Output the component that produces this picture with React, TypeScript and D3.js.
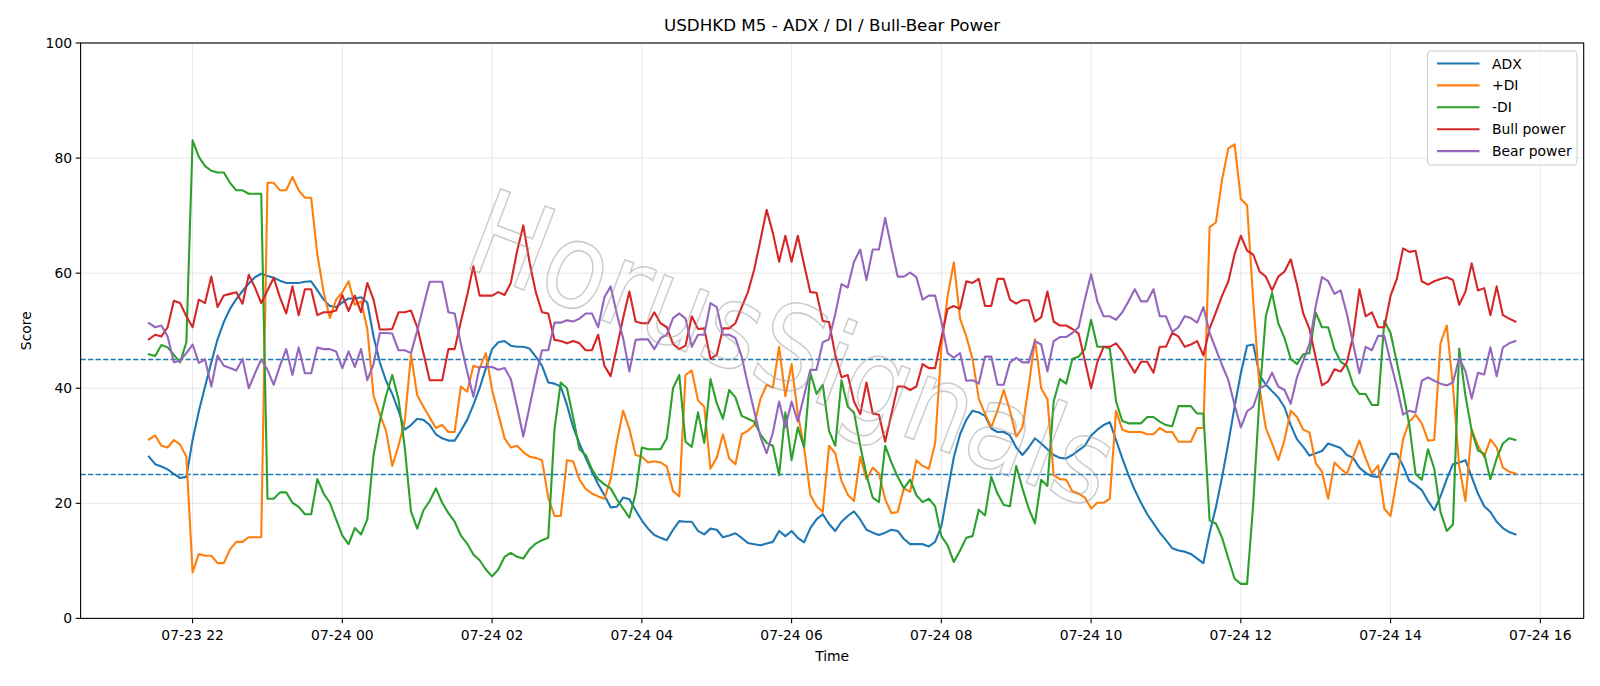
import React from 'react';
import * as d3 from 'd3';

// USDHKD M5 bars, first bar 07-23 21:25, one bar every 5 minutes
const START = '2024-07-23T21:25:00Z';
const STEP_MIN = 5;

const adx = [
  28.1, 26.8, 26.4, 25.9, 25.1, 24.4, 24.6, 31.0, 36.0, 40.3,
  44.5, 48.5, 51.5, 53.8, 55.5, 56.9, 58.2, 59.3, 59.9, 59.5,
  59.2, 58.7, 58.3, 58.3, 58.3, 58.5, 58.6, 57.0, 55.4, 54.3,
  54.1, 54.9, 55.6, 55.6, 55.8, 54.9, 49.0, 44.5, 41.3, 39.0,
  36.1, 32.8, 33.6, 34.7, 34.5, 33.6, 32.0, 31.3, 30.9, 30.9,
  32.6, 34.5, 37.1, 40.0, 43.5, 46.8, 48.0, 48.2, 47.4, 47.2,
  47.2, 46.9, 45.5, 43.9, 41.0, 40.8, 40.3, 37.1, 33.2, 30.4,
  27.9, 25.5, 23.3, 21.4, 19.3, 19.4, 21.0, 20.7, 18.8, 17.0,
  15.6, 14.5, 14.0, 13.6, 15.4, 16.9, 16.8, 16.8, 15.2, 14.6,
  15.6, 15.4, 14.1, 14.4, 14.8, 14.0, 13.1, 12.9, 12.7, 13.0,
  13.3, 15.2, 14.3, 15.2, 14.0, 13.2, 15.7, 17.2, 18.1, 16.4,
  15.2, 16.8, 17.8, 18.6, 17.2, 15.4, 14.9, 14.5, 14.9, 15.4,
  15.2, 13.8, 12.9, 12.9, 12.9, 12.5, 13.3, 16.0, 22.0, 28.0,
  32.0, 34.5, 36.1, 35.8, 35.2, 33.0, 32.4, 32.4, 31.8, 29.7,
  28.4, 29.7, 31.3, 30.4, 29.4, 28.4, 27.9, 27.8, 28.4, 29.2,
  30.0, 31.8, 32.8, 33.6, 34.1, 31.0, 27.8, 24.9, 22.3, 20.1,
  18.1, 16.5, 14.9, 13.6, 12.2, 11.8, 11.6, 11.2, 10.4, 9.6,
  14.9, 19.3, 24.6, 30.5, 36.8, 42.6, 47.4, 47.6, 42.3, 40.6,
  39.5, 38.4, 36.7, 33.6, 31.1, 29.8, 28.3, 28.7, 29.1, 30.4,
  30.0, 29.6, 28.4, 27.9, 26.2, 25.3, 24.7, 24.6, 26.6, 28.6,
  28.6, 26.5, 23.9, 23.2, 22.3, 20.4, 18.8, 21.2, 24.2, 26.8,
  27.1, 27.5, 24.6, 21.7, 19.5, 18.5, 16.8, 15.7, 15.0, 14.6,
];

const plusDI = [
  31.1, 31.8, 30.0, 29.7, 31.0, 30.2, 28.1, 8.0, 11.2, 10.9,
  10.9, 9.6, 9.6, 12.0, 13.3, 13.3, 14.1, 14.1, 14.1, 75.7,
  75.7, 74.4, 74.4, 76.7, 74.4, 73.1, 73.1, 63.2, 56.7, 52.2,
  55.4, 56.7, 58.6, 54.5, 55.1, 50.3, 38.7, 35.5, 32.6, 26.5,
  30.0, 34.2, 45.8, 38.8, 36.8, 34.9, 33.1, 33.6, 32.4, 32.4,
  40.3, 39.4, 43.9, 43.5, 46.1, 39.7, 35.5, 31.3, 29.7, 30.0,
  28.9, 28.1, 27.9, 27.5, 21.0, 17.8, 17.8, 27.5, 27.3, 24.1,
  22.5, 21.7, 21.2, 20.8, 24.2, 30.7, 36.1, 32.9, 28.4, 28.1,
  27.1, 27.3, 27.1, 26.4, 22.1, 21.2, 42.3, 43.1, 37.9, 36.8,
  26.0, 27.9, 32.0, 27.8, 26.8, 32.0, 32.6, 33.6, 38.1, 40.6,
  40.1, 47.2, 38.6, 44.2, 35.5, 29.7, 21.5, 19.5, 18.5, 30.0,
  28.7, 23.9, 21.5, 20.4, 28.1, 24.2, 26.2, 25.2, 20.7, 18.3,
  18.5, 22.6, 22.0, 27.5, 26.5, 26.0, 30.4, 47.0, 56.0, 61.9,
  52.1, 49.0, 45.1, 38.2, 35.6, 33.2, 36.1, 39.7, 36.1, 31.6,
  33.2, 40.3, 48.5, 40.0, 38.1, 24.9, 24.2, 24.1, 22.1, 21.7,
  21.0, 19.1, 20.1, 20.1, 20.8, 36.1, 32.8, 32.4, 32.4, 32.4,
  32.0, 32.0, 33.1, 32.4, 32.4, 30.7, 30.7, 30.7, 33.1, 33.1,
  68.0, 68.8, 76.3, 81.7, 82.4, 72.9, 71.8, 55.0, 40.0, 33.1,
  30.4, 27.5, 31.0, 36.1, 35.0, 32.8, 32.3, 27.0, 25.5, 20.8,
  27.1, 26.0, 25.1, 28.1, 30.9, 27.8, 25.2, 26.6, 19.1, 17.8,
  24.2, 31.1, 34.2, 35.4, 33.9, 30.9, 31.0, 47.8, 50.9, 40.3,
  26.4, 20.4, 32.8, 30.0, 28.1, 31.1, 29.7, 26.2, 25.5, 25.2,
];

const minusDI = [
  45.9, 45.6, 47.5, 47.1, 45.8, 44.5, 48.0, 83.1, 80.2, 78.6,
  77.8, 77.5, 77.5, 75.7, 74.4, 74.4, 73.8, 73.8, 73.8, 20.8,
  20.8, 21.9, 21.9, 20.1, 19.4, 18.1, 18.1, 24.2, 21.7, 20.1,
  17.2, 14.4, 12.9, 15.7, 14.6, 17.2, 28.4, 34.2, 38.7, 42.3,
  38.1, 29.7, 18.6, 15.6, 18.8, 20.4, 22.6, 20.1, 18.3, 16.8,
  14.4, 13.0, 11.1, 10.1, 8.5, 7.3, 8.5, 10.7, 11.4, 10.7,
  10.4, 12.0, 13.0, 13.6, 14.0, 32.9, 41.0, 40.0, 34.9, 29.4,
  28.4, 25.9, 24.2, 23.3, 22.6, 20.7, 19.1, 17.5, 21.7, 29.7,
  29.4, 29.4, 29.4, 31.3, 40.0, 42.3, 30.7, 29.8, 35.8, 30.5,
  41.6, 37.4, 34.7, 39.7, 38.4, 35.2, 34.7, 34.2, 32.0, 30.5,
  30.0, 24.9, 35.8, 27.5, 33.2, 29.7, 42.7, 39.0, 40.6, 32.6,
  30.0, 41.4, 36.8, 35.8, 30.0, 24.9, 21.0, 20.2, 30.0, 27.1,
  24.6, 22.6, 24.1, 21.4, 20.2, 20.8, 19.5, 14.3, 12.7, 9.8,
  11.8, 14.0, 14.3, 18.9, 17.9, 24.6, 21.7, 19.7, 19.5, 26.5,
  22.6, 19.1, 16.5, 24.1, 23.0, 37.7, 41.6, 40.8, 45.1, 45.5,
  46.8, 51.9, 47.2, 47.2, 46.9, 37.7, 34.3, 33.9, 33.9, 33.9,
  35.0, 35.0, 34.2, 33.6, 33.4, 36.9, 36.9, 36.9, 35.6, 35.6,
  17.0, 16.5, 14.0, 10.4, 6.9, 6.0, 6.0, 20.1, 38.7, 52.5,
  56.6, 51.3, 48.7, 45.1, 44.2, 45.9, 46.1, 53.2, 50.6, 50.6,
  46.8, 44.6, 43.9, 40.6, 39.0, 39.0, 37.1, 37.1, 51.7, 49.6,
  44.5, 39.4, 33.6, 25.1, 24.1, 29.4, 26.0, 18.5, 15.2, 16.3,
  46.9, 38.7, 32.6, 29.2, 28.6, 24.2, 27.8, 30.4, 31.3, 31.0,
];

const bullPower = [
  48.5, 49.3, 49.0, 50.6, 55.2, 54.8, 52.5, 50.6, 55.4, 54.8,
  59.4, 54.1, 56.1, 56.4, 56.7, 54.7, 59.7, 57.5, 54.8, 57.0,
  59.2, 55.8, 53.0, 57.7, 52.7, 57.2, 57.2, 52.7, 53.2, 53.2,
  53.5, 56.2, 53.4, 56.1, 53.2, 58.3, 55.4, 50.2, 50.2, 50.3,
  53.2, 53.2, 53.5, 50.6, 46.1, 41.4, 41.4, 41.4, 46.8, 46.8,
  51.6, 56.1, 61.2, 56.1, 56.1, 56.1, 56.7, 56.2, 58.3, 63.8,
  68.3, 61.9, 56.7, 53.2, 53.0, 48.4, 48.2, 47.8, 48.2, 47.8,
  46.6, 46.6, 49.3, 43.9, 42.1, 47.1, 52.2, 56.8, 51.6, 51.3,
  51.3, 53.2, 51.3, 50.6, 47.7, 46.8, 47.4, 52.5, 50.3, 50.4,
  45.1, 45.8, 50.4, 50.4, 51.3, 54.1, 56.7, 60.6, 65.7, 71.0,
  67.0, 62.0, 66.5, 62.0, 66.5, 61.5, 56.7, 56.6, 51.7, 51.5,
  45.8, 41.9, 42.3, 37.7, 35.5, 41.0, 35.6, 35.4, 30.7, 35.5,
  40.3, 40.3, 39.7, 40.3, 44.2, 43.5, 43.5, 48.7, 53.8, 54.3,
  53.8, 58.6, 58.3, 59.0, 54.3, 54.3, 59.0, 59.0, 55.4, 54.7,
  55.3, 55.3, 51.6, 52.3, 56.8, 51.6, 50.9, 50.9, 50.3, 49.5,
  44.8, 40.0, 44.5, 47.2, 47.2, 47.8, 46.4, 44.5, 42.7, 44.6,
  44.6, 42.7, 47.2, 47.2, 49.6, 49.0, 47.2, 47.6, 48.2, 45.7,
  50.4, 53.2, 56.1, 58.6, 63.3, 66.5, 63.9, 63.2, 60.3, 59.4,
  57.0, 59.4, 60.3, 62.4, 58.0, 53.0, 50.3, 45.3, 40.5, 41.2,
  43.3, 42.9, 44.5, 49.1, 57.2, 52.5, 53.2, 50.6, 50.6, 56.1,
  59.0, 64.3, 63.7, 63.9, 58.6, 58.0, 58.6, 59.0, 59.3, 58.8,
  54.5, 56.8, 61.7, 57.0, 57.4, 52.7, 57.7, 52.7, 52.1, 51.6,
];

const bearPower = [
  51.3, 50.6, 50.9, 49.0, 44.5, 44.8, 46.1, 47.6, 44.4, 45.0,
  40.3, 45.7, 43.9, 43.5, 43.1, 45.1, 40.0, 42.6, 45.0, 43.2,
  40.6, 43.9, 46.8, 42.3, 47.1, 42.6, 42.6, 47.1, 46.8, 46.8,
  46.4, 43.5, 46.4, 43.7, 46.8, 41.4, 44.2, 49.6, 49.6, 49.5,
  46.6, 46.6, 46.1, 50.0, 54.3, 58.5, 58.5, 58.5, 53.2, 53.0,
  47.7, 42.9, 38.5, 43.7, 43.7, 43.7, 43.2, 43.5, 41.6, 36.8,
  31.6, 36.8, 41.9, 46.6, 46.6, 51.4, 51.4, 51.8, 51.6, 52.1,
  53.0, 53.0, 50.6, 55.8, 57.7, 52.9, 48.7, 42.9, 48.4, 48.5,
  48.5, 46.8, 48.7, 49.3, 52.2, 53.0, 52.1, 47.2, 49.3, 49.3,
  54.8, 54.1, 49.3, 49.3, 48.7, 45.5, 40.6, 36.1, 31.6, 28.7,
  32.3, 37.7, 33.2, 37.7, 34.2, 38.7, 43.2, 43.2, 48.0, 48.5,
  52.9, 58.1, 57.5, 62.0, 64.1, 58.8, 64.1, 64.1, 69.6, 64.4,
  59.4, 59.4, 60.1, 59.3, 55.4, 56.1, 56.1, 51.6, 46.1, 45.3,
  46.1, 41.3, 41.4, 40.8, 45.5, 45.5, 40.6, 40.6, 44.5, 45.3,
  44.5, 44.5, 48.2, 47.6, 42.9, 48.2, 48.9, 48.9, 49.6, 50.6,
  55.4, 59.8, 55.1, 52.5, 52.5, 51.9, 53.2, 55.1, 57.2, 55.1,
  55.1, 57.2, 52.5, 52.5, 49.8, 50.6, 52.5, 52.2, 51.4, 54.1,
  49.6, 46.8, 44.0, 41.4, 37.1, 33.2, 36.0, 36.8, 40.0, 40.5,
  42.7, 40.3, 39.7, 37.3, 41.9, 44.8, 47.7, 54.3, 59.3, 58.6,
  56.4, 57.0, 52.9, 47.7, 42.6, 47.2, 46.6, 49.1, 49.1, 44.5,
  40.3, 35.4, 36.1, 35.8, 41.3, 41.9, 41.3, 40.8, 40.5, 41.0,
  45.3, 42.9, 38.2, 42.7, 42.4, 47.1, 42.1, 47.1, 47.8, 48.2,
];

const seriesNames = ['ADX', '+DI', '-DI', 'Bull power', 'Bear power'];
const seriesColors = ['#1f77b4', '#ff7f0e', '#2ca02c', '#d62728', '#9467bd'];
const seriesValues = [adx, plusDI, minusDI, bullPower, bearPower];

const yTicks = [0, 20, 40, 60, 80, 100];
const thresholds = [45, 25];

const TITLE = 'USDHKD M5 - ADX / DI / Bull-Bear Power';
const WATERMARK = 'HorusSignals';

const W = 1600;
const H = 686;
const M = { left: 80.6, right: 1583.7, top: 43, bottom: 618.4 };
const FONT = '"DejaVu Sans", Verdana, sans-serif';

export default function App() {
  const t0 = Date.parse(START);
  const times = adx.map((_, i) => new Date(t0 + i * STEP_MIN * 60000));
  const first = +times[0];
  const last = +times[times.length - 1];
  const pad = (last - first) * 0.05;

  const x = d3
    .scaleUtc()
    .domain([new Date(first - pad), new Date(last + pad)])
    .range([M.left, M.right]);
  const y = d3.scaleLinear().domain([0, 100]).range([M.bottom, M.top]);

  const xTicks = d3.utcHour.every(2)!.range(x.domain()[0], x.domain()[1]);
  const fmt = d3.utcFormat('%m-%d %H');

  const line = d3
    .line<number>()
    .x((_, i) => x(times[i]))
    .y((v) => y(v));

  const legendX = 1427.5;
  const legendY = 51;
  const rowH = 21.9;

  // watermark placement
  const wmX = 792;
  const wmY = 350;

  return (
    <svg
      width={W}
      height={H}
      viewBox={`0 0 ${W} ${H}`}
      style={{ position: 'absolute', left: 0, top: 0, background: '#fff' }}
      fontFamily={FONT}
    >
      <rect x={0} y={0} width={W} height={H} fill="#fff" />

      {/* grid */}
      <g stroke="#b0b0b0" strokeOpacity={0.35} strokeWidth={0.9}>
        {xTicks.map((t) => (
          <line key={+t} x1={x(t)} x2={x(t)} y1={M.top} y2={M.bottom} />
        ))}
        {yTicks.map((v) => (
          <line key={v} x1={M.left} x2={M.right} y1={y(v)} y2={y(v)} />
        ))}
      </g>

      {/* threshold levels */}
      {thresholds.map((v) => (
        <line
          key={v}
          x1={M.left}
          x2={M.right}
          y1={y(v)}
          y2={y(v)}
          stroke="#1f77b4"
          strokeWidth={1.4}
          strokeDasharray="5.2,2.3"
        />
      ))}

      {/* series */}
      <g fill="none" strokeWidth={2.1} strokeLinejoin="round" strokeLinecap="square">
        {seriesValues.map((vals, k) => (
          <path key={seriesNames[k]} d={line(vals) ?? ''} stroke={seriesColors[k]} />
        ))}
      </g>

      {/* watermark */}
      <text
        x={wmX}
        y={wmY + 40}
        transform={`rotate(21 ${wmX} ${wmY})`}
        textAnchor="middle"
        fontSize={118}
        fontFamily={FONT}
        fill="none"
        stroke="#9a9a9a"
        strokeWidth={1.6}
        strokeOpacity={0.5}
        textLength={680}
        lengthAdjust="spacingAndGlyphs"
      >
        {WATERMARK}
      </text>

      {/* frame */}
      <rect
        x={M.left}
        y={M.top}
        width={M.right - M.left}
        height={M.bottom - M.top}
        fill="none"
        stroke="#000"
        strokeWidth={1.1}
      />

      {/* x axis */}
      <g fontSize={13.9} fill="#000" textAnchor="middle">
        {xTicks.map((t) => (
          <g key={+t}>
            <line x1={x(t)} x2={x(t)} y1={M.bottom} y2={M.bottom + 4.9} stroke="#000" strokeWidth={1.1} />
            <text x={x(t)} y={M.bottom + 22}>
              {fmt(t)}
            </text>
          </g>
        ))}
      </g>

      {/* y axis */}
      <g fontSize={13.9} fill="#000" textAnchor="end">
        {yTicks.map((v) => (
          <g key={v}>
            <line x1={M.left - 4.9} x2={M.left} y1={y(v)} y2={y(v)} stroke="#000" strokeWidth={1.1} />
            <text x={M.left - 8.5} y={y(v) + 5}>
              {v}
            </text>
          </g>
        ))}
      </g>

      <text x={(M.left + M.right) / 2} y={661} fontSize={13.9} textAnchor="middle">
        Time
      </text>
      <text
        x={0}
        y={0}
        transform={`translate(30.5 ${(M.top + M.bottom) / 2}) rotate(-90)`}
        fontSize={13.9}
        textAnchor="middle"
      >
        Score
      </text>
      <text x={(M.left + M.right) / 2} y={30.5} fontSize={16.7} textAnchor="middle">
        {TITLE}
      </text>

      {/* legend */}
      <g>
        <rect
          x={legendX}
          y={legendY}
          width={149.5}
          height={114}
          rx={3}
          fill="#fff"
          fillOpacity={0.8}
          stroke="#ccc"
          strokeWidth={1}
        />
        {seriesNames.map((name, k) => {
          const cy = legendY + 12.5 + k * rowH;
          return (
            <g key={name}>
              <line
                x1={legendX + 9.5}
                x2={legendX + 52}
                y1={cy}
                y2={cy}
                stroke={seriesColors[k]}
                strokeWidth={2.1}
              />
              <text x={legendX + 64.5} y={cy + 5} fontSize={13.9} fill="#000">
                {name}
              </text>
            </g>
          );
        })}
      </g>
    </svg>
  );
}
